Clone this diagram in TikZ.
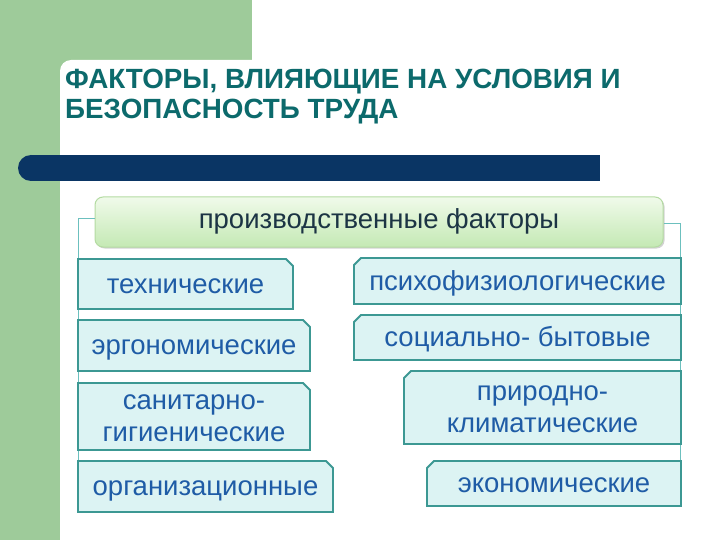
\documentclass[tikz,border=0pt]{standalone}
\usepackage{fontspec}
\setmainfont{Liberation Sans}
\usetikzlibrary{shapes.misc,shadows}
\definecolor{panelgreen}{HTML}{9ECB9A}
\definecolor{barnavy}{HTML}{0A3564}
\definecolor{titleteal}{HTML}{0C6A6C}
\definecolor{boxfill}{HTML}{DCF3F3}
\definecolor{boxline}{HTML}{3C9893}
\definecolor{boxtext}{HTML}{1F5CA6}
\definecolor{frameline}{HTML}{6CC0BE}
\definecolor{topA}{HTML}{F0FAEA}
\definecolor{topB}{HTML}{C4E9B4}
\definecolor{topline}{HTML}{B4DBA2}
\definecolor{toptext}{HTML}{1C3444}
\newcommand\onel[2][9pt]{\smash{\raisebox{-#1}{#2}}}
\newcommand\twol[2]{\smash{\raisebox{-25pt}{\begin{tabular}[b]{@{}c@{}}#1\\#2\end{tabular}}}}
\tikzset{
  factor/.style={chamfered rectangle, chamfered rectangle xsep=7pt, chamfered rectangle ysep=7pt,
    draw=boxline, line width=1.8pt, fill=boxfill, text=boxtext, font=\fontsize{27.5}{32}\selectfont,
    inner sep=0pt, anchor=center},
  leftbox/.style={factor, chamfered rectangle corners=north east},
  rightbox/.style={factor, chamfered rectangle corners=north west},
  headbox/.style={draw=topline, line width=1pt, rounded corners=8pt, top color=topA, bottom color=topB,
    drop shadow={shadow xshift=1.5pt, shadow yshift=-1.5pt, opacity=0.35},
    text=toptext, font=\fontsize{27.5}{32}\selectfont, inner sep=0pt, anchor=center},
  frame/.style={draw=frameline, line width=1pt}
}
\begin{document}
\begin{tikzpicture}[x=1pt,y=-1pt]
\useasboundingbox (0,0) rectangle (720,540);
\fill[white] (0,0) rectangle (720,540);
% green panel
\fill[panelgreen] (0,0) rectangle (252,72);
\fill[panelgreen] (0,0) rectangle (60,540);
\fill[white, rounded corners=11pt] (60,60) rectangle (740,560);
% navy bar
\fill[barnavy] (31,168) circle (13);
\fill[barnavy] (31,155) rectangle (600,181);
% title
\node[anchor=north west, text=titleteal, align=left, inner sep=0pt,
  font=\fontsize{27.8}{30.5}\selectfont\bfseries] (title) at (65,68.5)
  {ФАКТОРЫ, ВЛИЯЮЩИЕ НА УСЛОВИЯ И\\БЕЗОПАСНОСТЬ ТРУДА};
% frame lines
\coordinate (lb) at (78,512);
\coordinate (rb) at (680,506);
% head box
\node[headbox, minimum width=568pt, minimum height=50pt] (head) at (379,222) {\onel[7pt]{производственные факторы}};
\draw[frame] (head.west |- 0,219) -- (78,219) -- (lb);
\draw[frame] (head.east |- 0,224) -- (680,224) -- (rb);
% left boxes
\node[leftbox, minimum width=215pt, minimum height=50pt] (tech) at (185.5,284) {\onel{технические}};
\node[leftbox, minimum width=232pt, minimum height=51pt] (ergo) at (194,345.5) {\onel{эргономические}};
\node[leftbox, minimum width=232pt, minimum height=67pt] (sanit) at (194,416.5) {\twol{санитарно-}{гигиенические}};
\node[leftbox, minimum width=255pt, minimum height=51pt] (org) at (205.5,486.5) {\onel{организационные}};
% right boxes
\node[rightbox, minimum width=327pt, minimum height=46pt] (psy) at (517.5,281) {\onel{психофизиологические}};
\node[rightbox, minimum width=327pt, minimum height=45pt] (soc) at (517.5,337.5) {\onel{социально- бытовые}};
\node[rightbox, minimum width=277pt, minimum height=73pt] (clim) at (542.5,407.5) {\twol{природно-}{климатические}};
\node[rightbox, minimum width=254pt, minimum height=45pt] (econ) at (554,483.5) {\onel{экономические}};
\end{tikzpicture}
\end{document}
